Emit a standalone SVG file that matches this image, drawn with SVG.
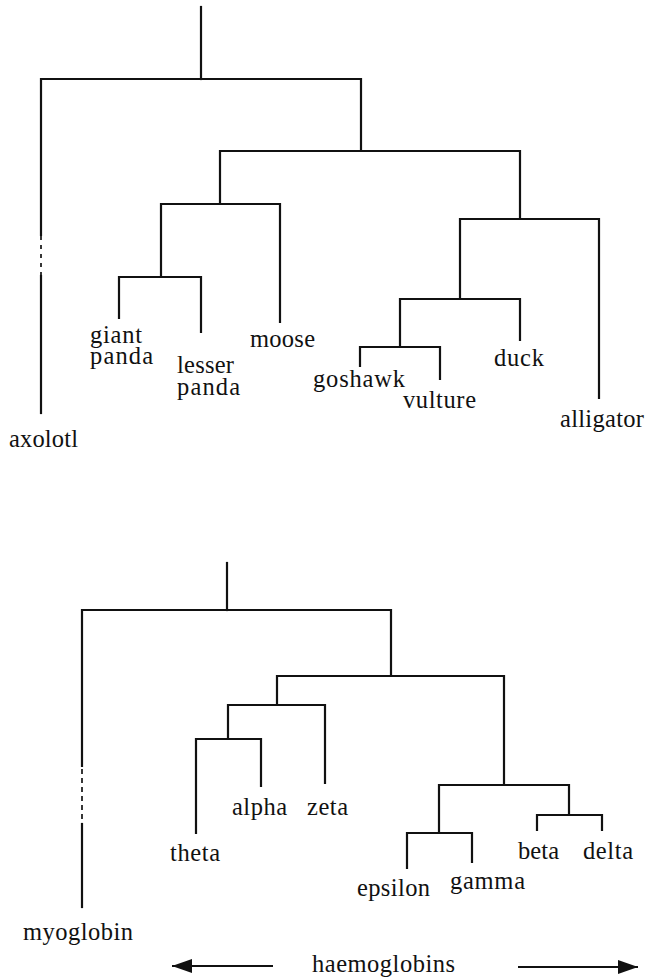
<svg xmlns="http://www.w3.org/2000/svg" width="645" height="980" viewBox="0 0 645 980">
<defs>
<style>
.e{fill:none;stroke:#111;stroke-width:2.2;stroke-linecap:square;stroke-linejoin:miter}
.d{fill:none;stroke:#222;stroke-width:1.8}
text{font-family:"Liberation Serif","Times New Roman",serif;font-size:24.5px;fill:#111}
</style>
<marker id="ah" viewBox="0 0 20 14" refX="20" refY="7" markerWidth="20" markerHeight="14" markerUnits="userSpaceOnUse" orient="auto">
<path d="M0,0 L20,7 L0,14 Z" fill="#111"/>
</marker>
</defs>
<rect width="645" height="980" fill="#fff"/>
<g id="connectors">
<path class="e" d="M201,7 V79"/>
<path class="e" d="M41,235 V79 H361 V151"/>
<path class="d" d="M41,236 V275" stroke-dasharray="4 5"/>
<path class="e" d="M41,276 V413"/>
<path class="e" d="M220,204 V151 H520 V219"/>
<path class="e" d="M161,277 V204 H280 V322"/>
<path class="e" d="M119,318 V277 H201 V332"/>
<path class="e" d="M460,299 V219 H599 V398"/>
<path class="e" d="M400,347 V299 H520 V340"/>
<path class="e" d="M360,366 V347 H440 V379"/>
<path class="e" d="M227,563 V610"/>
<path class="e" d="M82,766 V610 H391 V676"/>
<path class="d" d="M82,769 V822" stroke-dasharray="5 4"/>
<path class="e" d="M82,824 V907"/>
<path class="e" d="M277,705 V676 H504 V785"/>
<path class="e" d="M228,739 V705 H325 V783"/>
<path class="e" d="M196,833 V739 H261 V786"/>
<path class="e" d="M439,833 V785 H569 V815"/>
<path class="e" d="M407,868 V833 H472 V862"/>
<path class="e" d="M537,830 V815 H602 V830"/>
<path d="M273,966 H172" stroke="#111" stroke-width="1.8" marker-end="url(#ah)"/>
<path d="M518,967 H638" stroke="#111" stroke-width="1.8" marker-end="url(#ah)"/>
</g>
<g id="n-axolotl"><text x="9" y="447" textLength="69">axolotl</text></g>
<g id="n-giant-panda"><text x="90" y="343"><tspan textLength="52">giant</tspan><tspan x="90" y="364" textLength="63">panda</tspan></text></g>
<g id="n-lesser-panda"><text x="177" y="373"><tspan textLength="57">lesser</tspan><tspan x="177" y="395" textLength="63">panda</tspan></text></g>
<g id="n-moose"><text x="250" y="347" textLength="65">moose</text></g>
<g id="n-goshawk"><text x="313" y="387" textLength="92">goshawk</text></g>
<g id="n-vulture"><text x="403" y="408" textLength="73">vulture</text></g>
<g id="n-duck"><text x="494" y="366" textLength="50">duck</text></g>
<g id="n-alligator"><text x="560" y="427" textLength="84">alligator</text></g>
<g id="n-myoglobin"><text x="23" y="940" textLength="110">myoglobin</text></g>
<g id="n-theta"><text x="170" y="861" textLength="50">theta</text></g>
<g id="n-alpha"><text x="232" y="815" textLength="55">alpha</text></g>
<g id="n-zeta"><text x="307" y="815" textLength="41">zeta</text></g>
<g id="n-epsilon"><text x="357" y="896" textLength="73">epsilon</text></g>
<g id="n-gamma"><text x="450" y="889" textLength="75">gamma</text></g>
<g id="n-beta"><text x="518" y="859" textLength="41">beta</text></g>
<g id="n-delta"><text x="583" y="859" textLength="50">delta</text></g>
<g id="n-haemoglobins"><text x="312" y="972" textLength="143">haemoglobins</text></g>
</svg>
